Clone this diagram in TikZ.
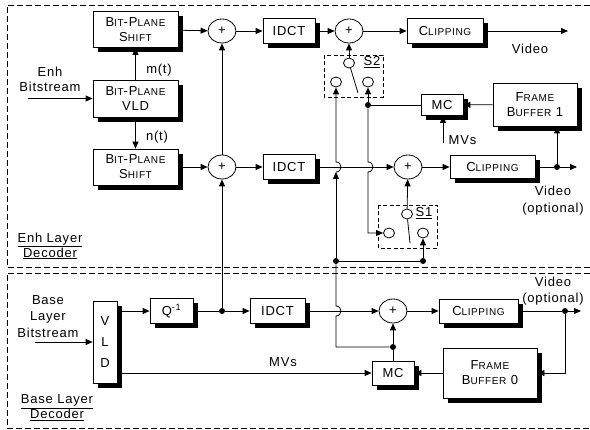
\documentclass[tikz,border=0pt]{standalone}
\usepackage{fontspec}
\setmainfont[LetterSpace=6]{Liberation Sans}
\usepackage{tikz}
\usetikzlibrary{arrows.meta}
\usetikzlibrary{shadows}
\usetikzlibrary{shapes.geometric}
\newcommand{\smcap}[1]{{\fontsize{10}{12}\selectfont #1}}

\begin{document}
\begin{tikzpicture}[x=1pt,y=-1pt,line width=0.8pt,
  font=\fontsize{13}{15}\selectfont,
  arr/.style={-{Triangle[length=7pt,width=6pt]}},
  blk/.style={draw,fill=white,inner sep=0pt,align=center,
    drop shadow={shadow xshift=5pt,shadow yshift=-5pt,opacity=1,fill=black}},
  sum/.style={draw,ellipse,minimum width=28pt,minimum height=24pt,inner sep=0pt},
  pole/.style={draw,ellipse,minimum width=11pt,minimum height=10pt,inner sep=0pt},
  jdot/.style={circle,fill=black,inner sep=0pt,minimum size=6pt},
  hop/.style={out=0,in=0,looseness=1.7},
  layerbox/.style={dash pattern=on 6pt off 3pt},
  swbox/.style={line width=0.7pt,dash pattern=on 4pt off 2.5pt}]
\useasboundingbox (0,0) rectangle (590,430);
%enh layer
\draw [layerbox] (590,5) -| (7,267) -- (590,267);
\node [blk,minimum width=85pt,minimum height=36pt] (shiftA) at (135.5,29.5) {B\smcap{IT}-P\smcap{LANE}\\S\smcap{HIFT}};
\node [blk,minimum width=85pt,minimum height=37pt] (bpvld) at (135.5,98.5) {B\smcap{IT}-P\smcap{LANE}\\VLD};
\node [blk,minimum width=85pt,minimum height=36pt] (shiftB) at (135.5,167) {B\smcap{IT}-P\smcap{LANE}\\S\smcap{HIFT}};
\node [align=center] (enhin) at (50,79) {Enh\\Bitstream};
\coordinate (enhsrc) at (28,98.5);
\node (mlab) at (159,70) {m(t)};
\node (nlab) at (157,137) {n(t)};
\node [sum] (addA) at (222,31) {+};
\node [sum] (addB) at (222,167) {+};
\node [blk,minimum width=52pt,minimum height=25pt] (idctA) at (289,31) {IDCT};
\node [blk,minimum width=52pt,minimum height=25pt] (idctB) at (289,167) {IDCT};
\node [sum] (addC) at (349,31) {+};
\node [blk,minimum width=76pt,minimum height=25pt] (clipA) at (445,31) {C\smcap{LIPPING}};
\coordinate (outA) at (568,31);
\node (videoA) at (530,49) {Video};
%S2
\draw [swbox] (324,55) rectangle (383,97);
\node [pole] (s2top) at (349,63) {};
\node [pole] (s2l) at (336,82) {};
\node [pole] (s2r) at (368,82) {};
\coordinate (s2tip) at (358,93);
\node (s2lab) at (372,62) {\underline{S2}};
\node [blk,minimum width=42pt,minimum height=21pt] (mcA) at (442,105) {MC};
\node [blk,minimum width=84pt,minimum height=43pt] (fbA) at (535,104.5) {F\smcap{RAME}\\B\smcap{UFFER} 1};
\coordinate (mvA) at (443,143);
\node [anchor=west] (mvAlab) at (445,140) {MVs};
\node [jdot] (jA) at (368,105) {};
\node [sum] (addD) at (408,167) {+};
\node [blk,minimum width=85pt,minimum height=23pt] (clipB) at (492.5,167) {C\smcap{LIPPING}};
\node [jdot] (jB) at (557,167) {};
\coordinate (outB) at (577,167);
\node [align=center,font=\fontsize{13}{17}\selectfont] (videoB) at (553,201) {Video\\(optional)};
%S1
\draw [swbox] (378,205) rectangle (437,248);
\node [pole] (s1top) at (407,214) {};
\node [pole] (s1l) at (389,233) {};
\node [pole] (s1r) at (423,233) {};
\coordinate (s1tip) at (410,243);
\node (s1lab) at (424,213) {\underline{S1}};
\node [jdot] (jC) at (336,261) {};
\node [jdot] (jD) at (423,261) {};
\node [align=center] (enhlab) at (50,246) {\underline{Enh Layer}\\\underline{Decoder}};
%
\draw [arr] (enhsrc) -- (bpvld);
\draw [arr] (bpvld) -- (shiftA);
\draw [arr] (bpvld) -- (shiftB);
\draw [arr] (shiftA) -- (addA);
\draw [arr] (shiftB) -- (addB);
\draw [arr] (addA) -- (idctA);
\draw [arr] (idctA) -- (addC);
\draw [arr] (addC) -- (clipA);
\draw [arr] (clipA) -- (outA);
\draw [arr] (addB) -- (addA);
\draw [arr] (addB) -- (idctB);
\draw [arr] (s2top) -- (addC);
\draw (s2top) -- (s2tip);
\draw [arr] (idctB) -- (addD);
\draw [arr] (addD) -- (clipB);
\draw (clipB) -- (jB);
\draw [arr] (jB) -- (outB);
\draw [arr] (jB) -- (jB |- fbA.south);
\draw [arr] (fbA) -- (mcA);
\draw [arr] (mvA) -- (mvA |- mcA.south);
\draw (mcA) -- (jA);
\draw [arr] (jA) -- (s2r);
\draw [arr] (jA) -- (368,162) to[hop] (368,172) |- (s1l);
\draw [arr] (s1top) -- (addD);
\draw (s1top) -- (s1tip);
\draw (jC) -- (jD);
\draw [arr] (jD) -- (s1r);
\draw [arr] (jC) -- (336,172);
\draw [arr] (336,172) to[hop] (336,162) -- (s2l);
%base layer
\draw [layerbox] (590,273) -| (7,428) -- (590,428);
\node [blk,minimum width=24pt,minimum height=82pt,font=\fontsize{13}{21}\selectfont] (vld) at (105,342) {V\\L\\D};
\node [align=center,font=\fontsize{13}{16.5}\selectfont] (basein) at (48,316.5) {Base\\Layer\\Bitstream};
\coordinate (basesrc) at (35,342);
\node [blk,minimum width=43pt,minimum height=25pt] (qinv) at (171.5,311) {Q\textsuperscript{-1}};
\node [jdot] (jQ) at (222,311) {};
\node [blk,minimum width=55pt,minimum height=25pt] (idctC) at (277.5,311) {IDCT};
\node [sum] (addE) at (393,311) {+};
\node [blk,minimum width=79pt,minimum height=24pt] (clipC) at (478.5,311) {C\smcap{LIPPING}};
\node [jdot] (jE) at (565,311) {};
\coordinate (outC) at (581,311);
\node [align=center,font=\fontsize{13}{16}\selectfont] (videoC) at (553,291) {Video\\(optional)};
\node [blk,minimum width=94pt,minimum height=50pt] (fbB) at (490,373) {F\smcap{RAME}\\B\smcap{UFFER} 0};
\node [blk,minimum width=42pt,minimum height=24pt] (mcB) at (393,373) {MC};
\node [jdot] (jF) at (393,347) {};
\node (mvB) at (283,362) {MVs};
\node [align=center] (baselab) at (57,408) {\underline{Base Layer}\\\underline{Decoder}};
%
\draw [arr] (basesrc) -- (vld);
\draw [arr] (vld.east |- qinv) -- (qinv);
\draw (qinv) -- (jQ);
\draw [arr] (jQ) -- (idctC);
\draw [arr] (jQ) -- (addB);
\draw [arr] (idctC) -- (addE);
\draw [arr] (addE) -- (clipC);
\draw (clipC) -- (jE);
\draw [arr] (jE) -- (outC);
\draw [arr] (jE) |- (fbB);
\draw [arr] (fbB) -- (mcB);
\draw [arr] (vld.east |- mcB) -- (mcB);
\draw (mcB) -- (jF);
\draw [arr] (jF) -- (addE);
\draw (jF) -| (336,316) to[hop] (336,306) -- (jC);
\end{tikzpicture}
\end{document}
